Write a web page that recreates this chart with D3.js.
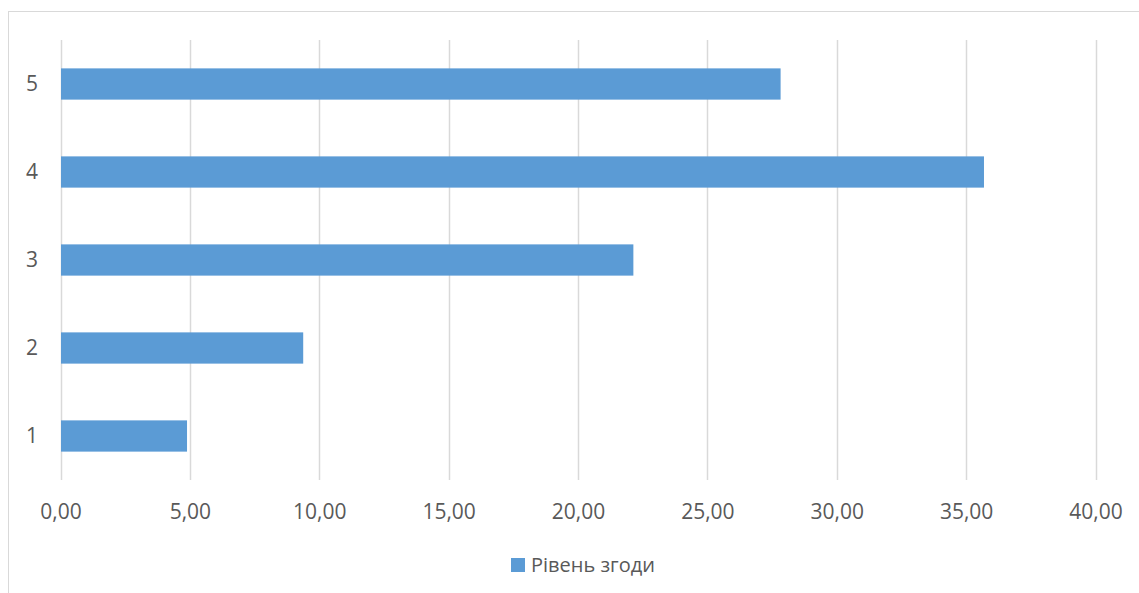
<!DOCTYPE html>
<html><head><meta charset="utf-8">
<script src="https://cdn.jsdelivr.net/npm/d3@7"></script>
<style>body{margin:0;background:#fff;} svg{display:block;}</style>
</head><body>
<script>
const categories = ["1","2","3","4","5"];
const values = [4.89, 9.38, 22.14, 35.69, 27.83];
const xTicks = [0,5,10,15,20,25,30,35,40];
const seriesName = "Рівень згоди";

const W = 1139, H = 593;
const svg = d3.select("body").append("svg").attr("width", W).attr("height", H);
svg.append("rect").attr("width", W).attr("height", H).attr("fill", "#fff");
svg.append("rect").attr("x", 8.5).attr("y", 11.5).attr("width", 1140).attr("height", 600)
  .attr("fill", "none").attr("stroke", "#d9d9d9").attr("stroke-width", 1);

const x = d3.scaleLinear().domain([0, 40]).range([60.5, 1095.5]);
const y = d3.scaleBand().domain(categories.slice().reverse()).range([40, 480]).paddingInner(0.645).paddingOuter(0.3225);

const font = "'Open Sans', sans-serif";
const grid = svg.append("g");
grid.selectAll("line").data(xTicks).join("line")
  .attr("x1", d => Math.round(x(d)) + 0.5).attr("x2", d => Math.round(x(d)) + 0.5)
  .attr("y1", 40).attr("y2", 480)
  .attr("stroke", "#d9d9d9").attr("stroke-width", 1.5);

svg.append("g").selectAll("rect").data(categories.map((c, i) => ({c, v: values[i]}))).join("rect")
  .attr("x", x(0) + 0.5).attr("y", d => y(d.c))
  .attr("width", d => x(d.v) - x(0) - 0.5).attr("height", y.bandwidth())
  .attr("fill", "#5b9bd5");

const xAxis = d3.axisBottom(x).tickValues(xTicks).tickSize(0).tickPadding(0)
  .tickFormat(d => d3.format(".2f")(d).replace(".", ","));
const gx = svg.append("g").attr("transform", "translate(0,512)").call(xAxis);
gx.select(".domain").remove();
gx.selectAll("text").attr("dy", "0.35em").attr("font-family", font).attr("font-size", 21).attr("fill", "#595959");

const yAxis = d3.axisLeft(y).tickSize(0).tickPadding(0);
const gy = svg.append("g").attr("transform", "translate(38,0)").call(yAxis);
gy.select(".domain").remove();
gy.selectAll("text").attr("font-family", font).attr("font-size", 21).attr("fill", "#595959");

const lg = svg.append("g");
lg.append("rect").attr("x", 511).attr("y", 558).attr("width", 14).attr("height", 14).attr("fill", "#5b9bd5");
lg.append("text").attr("x", 531).attr("y", 565).attr("dy", "0.35em")
  .attr("font-family", font).attr("font-size", 20).attr("fill", "#595959").text(seriesName);
</script>
</body></html>
